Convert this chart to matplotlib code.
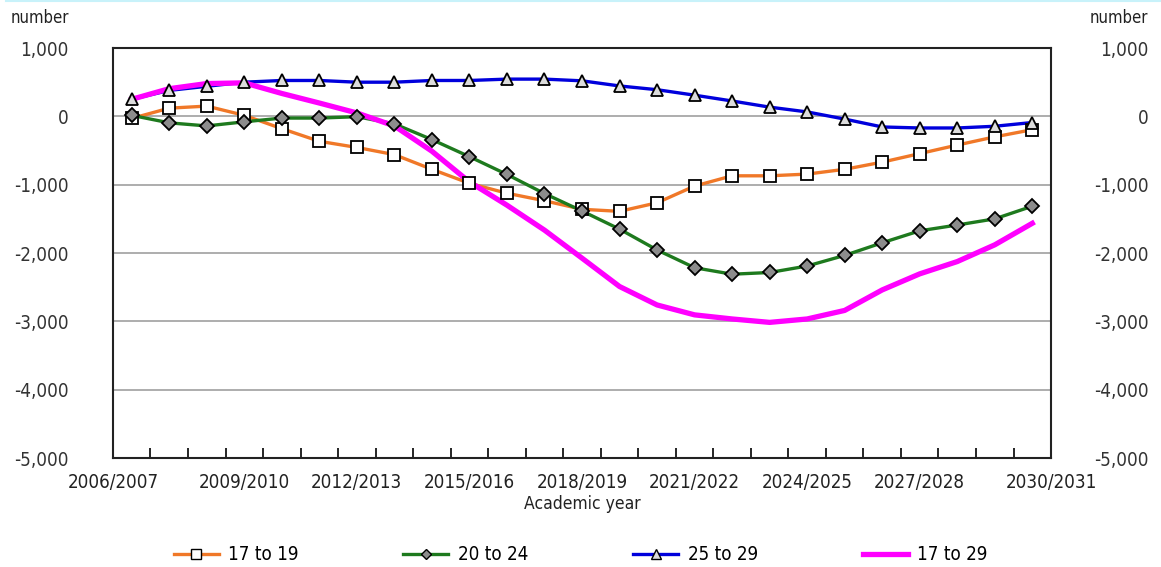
"""
Projected change in student numbers by age group, 2006/2007 to 2030/2031
"""
import numpy as np
import matplotlib.pyplot as plt
from matplotlib.lines import Line2D

plt.rcParams['font.family'] = ['Liberation Sans Narrow', 'DejaVu Sans']
plt.rcParams['font.stretch'] = 'condensed'

# Academic years 2006/2007 .. 2030/2031 (one point per year)
years = ['%d/%d' % (y, y + 1) for y in range(2006, 2031)]

# Values (number)
age_17_19 = [-30, 120, 150, 15, -180, -365, -455, -560, -775, -980,
             -1125, -1235, -1360, -1390, -1265, -1020, -870, -870, -845, -775,
             -670, -545, -420, -300, -195]
age_20_24 = [15, -95, -140, -80, -25, -25, -5, -110, -340, -590,
             -850, -1130, -1385, -1650, -1955, -2215, -2310, -2285, -2190, -2035,
             -1850, -1675, -1590, -1500, -1315]
age_25_29 = [250, 380, 440, 500, 525, 525, 500, 500, 525, 525,
             545, 545, 520, 445, 390, 310, 225, 135, 65, -40,
             -155, -170, -170, -145, -90]
age_17_29 = [250, 405, 480, 490, 335, 195, 50, -140, -510, -960,
             -1300, -1665, -2075, -2490, -2760, -2905, -2965, -3015, -2965, -2840,
             -2540, -2305, -2125, -1880, -1565]

tick_pos = [-0.5, 3, 6, 9, 12, 15, 18, 21, 24.5]
tick_labels = ['2006/2007', '2009/2010', '2012/2013', '2015/2016', '2018/2019',
               '2021/2022', '2024/2025', '2027/2028', '2030/2031']
y_ticks = [1000, 0, -1000, -2000, -3000, -4000, -5000]

x = np.arange(len(years))

fig = plt.figure(figsize=(11.61, 5.67), dpi=100)
ax = fig.add_axes([0.0973, 0.1922, 0.808, 0.7231])

# lines first, markers on top (like the original)
ax.plot(x, age_17_19, color='#f07828', lw=2.4, zorder=3)
ax.plot(x, age_20_24, color='#1e7a1e', lw=2.4, zorder=3)
ax.plot(x, age_25_29, color='#0000dc', lw=2.4, zorder=3)
ax.plot(x, age_17_29, color='#ff00ff', lw=3.8, zorder=3.5)
ax.plot(x, age_17_19, ls='none', marker='s', ms=8.5, mfc='white', mec='black', mew=1.3, zorder=5)
ax.plot(x, age_20_24, ls='none', marker='D', ms=7.5, mfc='#8c8c8c', mec='black', mew=1.3, zorder=5)
ax.plot(x, age_25_29, ls='none', marker='^', ms=9, mfc='#dcdcdc', mec='black', mew=1.3, zorder=5)

ax.set_xlim(-0.5, 24.5)
ax.set_ylim(-5000, 1000)
ax.set_yticks(y_ticks)
ax.set_yticklabels(['{:,}'.format(v) for v in y_ticks])
for v in y_ticks[1:-1]:
    ax.axhline(v, color='#a0a0a0', lw=1.2, zorder=1)

ax.set_xticks(tick_pos)
ax.set_xticklabels(tick_labels)
ax.set_xticks(np.arange(0.5, 24, 1), minor=True)
ax.tick_params(axis='x', which='major', length=0, pad=11, labelsize=13.5, colors='#222222')
ax.tick_params(axis='x', which='minor', direction='in', length=7, width=1.2, color='black')
ax.tick_params(axis='y', length=0, pad=32, labelsize=13.5, colors='#333333')
ax.set_xlabel('Academic year', fontsize=12.5, color='#222222', labelpad=2)

for s in ax.spines.values():
    s.set_linewidth(1.5)
    s.set_color('#222222')

ax2 = ax.twinx()
ax2.set_ylim(-5000, 1000)
ax2.set_yticks(y_ticks)
ax2.set_yticklabels(['{:,}'.format(v) for v in y_ticks])
ax2.tick_params(axis='y', length=0, pad=70, labelsize=13.5, colors='#333333')
for lbl in ax2.get_yticklabels():
    lbl.set_horizontalalignment('right')
for s in ax2.spines.values():
    s.set_visible(False)

fig.text(0.009, 0.968, 'number', fontsize=12, ha='left', va='center', color='#222222')
fig.text(0.989, 0.968, 'number', fontsize=12, ha='right', va='center', color='#222222')

# thin cyan rule at the very top of the image
fig.add_artist(Line2D([0.005, 1.0], [0.998, 0.998], color='#c8f2fa', lw=1.5))

handles = [
    Line2D([], [], color='#f07828', lw=2.4, marker='s', ms=6.5, mfc='white', mec='black'),
    Line2D([], [], color='#1e7a1e', lw=2.4, marker='D', ms=5.5, mfc='#8c8c8c', mec='black'),
    Line2D([], [], color='#0000dc', lw=2.4, marker='^', ms=6.5, mfc='#dcdcdc', mec='black'),
    Line2D([], [], color='#ff00ff', lw=3.8),
]
fig.legend(handles, ['17 to 19', '20 to 24', '25 to 29', '17 to 29'],
           loc='center', bbox_to_anchor=(0.5, 1 - 555 / 567), ncol=4, frameon=False,
           fontsize=13.5, handlelength=2.4, handletextpad=0.5, columnspacing=5.6)

fig.savefig('out.png', dpi=100)
